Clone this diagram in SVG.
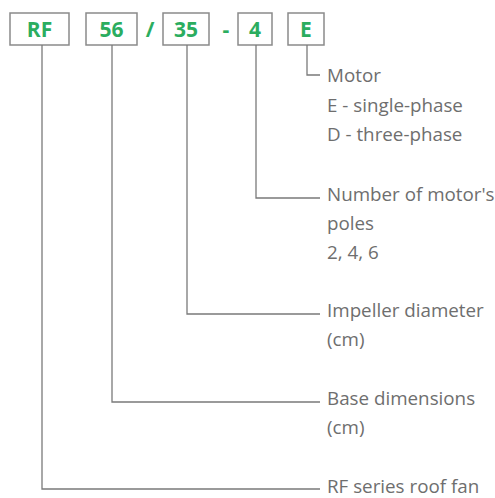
<svg xmlns="http://www.w3.org/2000/svg" width="495" height="498" viewBox="0 0 495 498">
<style>
.box{fill:#fff;stroke:#8a8a8a;stroke-width:1.5}
.code{font-family:"Open Sans",sans-serif;font-weight:bold;font-size:21px;fill:#2bad5f;text-anchor:middle}
.lbl{font-family:"Open Sans",sans-serif;font-size:18.8px;fill:#6e6e6e}
.ln{fill:none;stroke:#7a7a7a;stroke-width:1.3}
</style>
<rect width="495" height="498" fill="#fff"/>
<g id="node-rf"><rect class="box" x="10" y="13" width="59" height="32"/><text class="code" x="39.5" y="36.5">RF</text></g>
<g id="node-56"><rect class="box" x="86" y="13" width="51" height="32"/><text class="code" x="111.5" y="36.5">56</text></g>
<g id="sep-slash"><text class="code" x="150" y="36.5">/</text></g>
<g id="node-35"><rect class="box" x="163" y="13" width="46" height="32"/><text class="code" x="186" y="36.5">35</text></g>
<g id="sep-dash"><text class="code" x="226" y="36.5">-</text></g>
<g id="node-4"><rect class="box" x="238" y="13" width="34" height="32"/><text class="code" x="255" y="36.5">4</text></g>
<g id="node-e"><rect class="box" x="288" y="13" width="36" height="32"/><text class="code" x="306" y="36.5">E</text></g>
<g id="connectors">
<polyline class="ln" points="307,45 307,75 320,75"/>
<polyline class="ln" points="256,45 256,198 320,198"/>
<polyline class="ln" points="187,45 187,314 320,314"/>
<polyline class="ln" points="112,45 112,402 320,402"/>
<polyline class="ln" points="42,45 42,489 320,489"/>
</g>
<g id="label-motor"><text class="lbl" x="327" y="82">Motor</text><text class="lbl" x="327" y="112">E - single-phase</text><text class="lbl" x="327" y="141">D - three-phase</text></g>
<g id="label-poles"><text class="lbl" x="327" y="201">Number of motor's</text><text class="lbl" x="327" y="230">poles</text><text class="lbl" x="327" y="259">2, 4, 6</text></g>
<g id="label-impeller"><text class="lbl" x="327" y="317">Impeller diameter</text><text class="lbl" x="327" y="346">(cm)</text></g>
<g id="label-base"><text class="lbl" x="327" y="405">Base dimensions</text><text class="lbl" x="327" y="434">(cm)</text></g>
<g id="label-rf"><text class="lbl" x="327" y="493">RF series roof fan</text></g>
</svg>
